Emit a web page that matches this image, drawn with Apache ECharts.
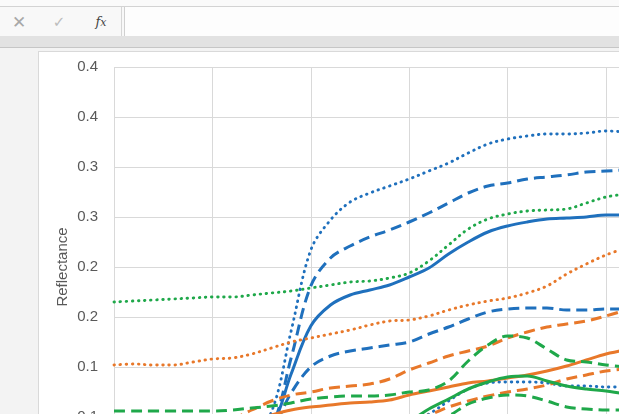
<!DOCTYPE html>
<html>
<head>
<meta charset="utf-8">
<script src="https://cdn.jsdelivr.net/npm/echarts@6/dist/echarts.min.js"></script>
<style>
  html,body{margin:0;padding:0;}
  body{width:619px;height:414px;overflow:hidden;background:#f3f3f3;position:relative;font-family:'Liberation Sans',Arial,sans-serif;}
  #topStrip{position:absolute;left:0;top:0;width:619px;height:36px;background:#fafafa;}
  #fbar{position:absolute;left:0;top:6px;width:619px;height:29px;border-top:1px solid #d3d3d3;border-bottom:1px solid #d3d3d3;background:#f8f8f8;}
  #sep1{position:absolute;left:121px;top:7px;width:1px;height:29px;background:#d6d6d6;}
  #sep2{position:absolute;left:124px;top:7px;width:1px;height:29px;background:#d0d0d0;}
  #fin{position:absolute;left:125px;top:7px;width:494px;height:29px;background:#fdfdfd;}
  #band{position:absolute;left:0;top:36px;width:619px;height:11px;background:#e2e2e2;border-bottom:1px solid #c6c6c6;}
  .ico{position:absolute;top:9px;height:26px;line-height:26px;text-align:center;}
  #icX{left:10px;width:18px;color:#a8a8a8;font-size:17px;font-family:'DejaVu Sans',sans-serif;}
  #icV{left:50px;width:18px;color:#bcbcbc;font-size:15px;font-family:'DejaVu Sans',sans-serif;}
  #icF{left:91px;width:20px;color:#444;font-size:13px;font-style:italic;font-family:'DejaVu Serif','Liberation Serif',serif;}
  #chartArea{position:absolute;left:38px;top:51px;width:800px;height:520px;background:#fff;border:1px solid #d9d9d9;box-sizing:border-box;}
  #chart{position:absolute;left:0;top:0;width:760px;height:560px;}
</style>
</head>
<body>
<div id="topStrip"></div>
<div id="fbar"></div>
<div id="fin"></div>
<div id="sep1"></div>
<div id="sep2"></div>
<div id="band"></div>
<div class="ico" id="icX">✕</div>
<div class="ico" id="icV">✓</div>
<div class="ico" id="icF">f<span style="font-size:11px">x</span></div>
<div id="chartArea"></div>
<div id="chart"></div>
<script>
// x values (wavelength-like, sampled every 20)
var wavelength = [400,420,440,460,480,500,520,540,560,580,600,620,640,660,680,700,720,740,760,780,800,820,840,860,880,900,920];

// y tick labels as displayed (values 0 to 0.40 step 0.05, rounded to 1 decimal)
var yTickLabels = ['0.0','0.1','0.1','0.2','0.2','0.3','0.3','0.4','0.4'];

var blueDotA  = [0.040,0.038,0.036,0.035,0.034,0.033,0.033,0.035,0.055,0.136,0.217,0.247,0.265,0.274,0.281,0.288,0.296,0.304,0.314,0.323,0.328,0.331,0.333,0.333,0.334,0.336,0.335];
var blueDashA = [0.038,0.036,0.034,0.033,0.032,0.031,0.031,0.033,0.040,0.109,0.181,0.209,0.221,0.230,0.237,0.245,0.254,0.264,0.274,0.281,0.284,0.288,0.290,0.292,0.295,0.296,0.297];
var blueSolid = [0.036,0.034,0.032,0.031,0.030,0.030,0.030,0.031,0.040,0.093,0.141,0.162,0.172,0.177,0.182,0.190,0.199,0.213,0.225,0.235,0.241,0.245,0.248,0.249,0.250,0.252,0.252];
var blueDashB = [0.032,0.030,0.029,0.028,0.027,0.027,0.027,0.028,0.038,0.074,0.100,0.111,0.116,0.119,0.122,0.125,0.133,0.140,0.148,0.155,0.158,0.159,0.159,0.157,0.157,0.158,0.158];
var blueDotB  = [0.030,0.028,0.027,0.026,0.025,0.025,0.025,0.026,0.028,0.031,0.033,0.035,0.036,0.037,0.040,0.045,0.053,0.066,0.078,0.084,0.085,0.085,0.084,0.081,0.081,0.080,0.080];

var orangeDot   = [0.102,0.103,0.102,0.102,0.105,0.108,0.109,0.113,0.119,0.125,0.129,0.133,0.137,0.142,0.146,0.147,0.151,0.157,0.162,0.166,0.169,0.174,0.181,0.193,0.203,0.212,0.219];
var orangeDashA = [0.040,0.040,0.041,0.042,0.043,0.044,0.048,0.057,0.066,0.072,0.075,0.079,0.081,0.083,0.088,0.097,0.104,0.111,0.116,0.121,0.129,0.135,0.140,0.143,0.146,0.151,0.157];
var orangeSolid = [0.035,0.036,0.037,0.038,0.039,0.040,0.042,0.046,0.052,0.057,0.060,0.062,0.064,0.065,0.067,0.072,0.076,0.080,0.084,0.086,0.089,0.092,0.096,0.101,0.107,0.113,0.117];
var orangeDashB = [0.030,0.030,0.030,0.031,0.031,0.032,0.032,0.033,0.034,0.035,0.036,0.037,0.038,0.040,0.043,0.047,0.052,0.060,0.066,0.071,0.075,0.078,0.082,0.088,0.092,0.096,0.098];

var greenDot   = [0.165,0.166,0.167,0.168,0.169,0.170,0.170,0.172,0.174,0.176,0.179,0.182,0.185,0.186,0.189,0.194,0.206,0.222,0.238,0.248,0.253,0.256,0.257,0.258,0.264,0.270,0.273];
var greenDashA = [0.056,0.056,0.056,0.056,0.056,0.056,0.057,0.059,0.061,0.064,0.068,0.070,0.071,0.071,0.072,0.075,0.077,0.086,0.106,0.122,0.131,0.129,0.118,0.107,0.105,0.102,0.100];
var greenSolid = [0.030,0.030,0.030,0.030,0.030,0.030,0.031,0.031,0.032,0.033,0.034,0.035,0.036,0.037,0.040,0.046,0.058,0.068,0.078,0.085,0.090,0.091,0.086,0.081,0.078,0.076,0.073];
var greenDashB = [0.028,0.028,0.028,0.028,0.028,0.028,0.029,0.029,0.030,0.031,0.032,0.033,0.034,0.035,0.037,0.040,0.044,0.051,0.063,0.069,0.072,0.071,0.066,0.060,0.058,0.057,0.057];

var BLUE = '#1f70bd', ORANGE = '#e8782a', GREEN = '#1fa84a';
var DOT = [0.5, 5.6], DASH = [11, 6];

function mk(name, vals, color, style) {
  var ls = {color: color, width: 3, cap: 'round', join: 'round'};
  if (style === 'dot') { ls.type = DOT; ls.width = 2.9; }
  else if (style === 'dash') { ls.type = DASH; ls.cap = 'butt'; }
  return {
    name: name, type: 'line', smooth: 0.35, showSymbol: false, symbol: 'none',
    data: wavelength.map(function (w, i) { return [w, vals[i]]; }),
    lineStyle: ls, itemStyle: {color: color}
  };
}

var chart = echarts.init(document.getElementById('chart'), null, {renderer: 'canvas'});
chart.setOption({
  animation: false,
  grid: {left: 114, top: 67, width: 590.4, height: 400},
  xAxis: {
    type: 'value', min: 400, max: 1000, interval: 100,
    axisLine: {show: true, lineStyle: {color: '#d9d9d9'}},
    axisTick: {show: false},
    axisLabel: {color: '#595959', fontSize: 15, fontFamily: 'Liberation Sans'},
    splitLine: {show: true, lineStyle: {color: '#d9d9d9', width: 1}}
  },
  yAxis: {
    type: 'value', min: 0, max: 0.4, interval: 0.05,
    name: 'Reflectance', nameLocation: 'middle', nameGap: 44, nameMoveOverlap: false,
    nameTextStyle: {color: '#595959', fontSize: 15, fontFamily: 'Liberation Sans'},
    axisLine: {show: false}, axisTick: {show: false},
    axisLabel: {
      color: '#595959', fontSize: 15, margin: 16, fontFamily: 'Liberation Sans',
      formatter: function (v) { return yTickLabels[Math.round(v / 0.05)]; }
    },
    splitLine: {show: true, lineStyle: {color: '#d9d9d9', width: 1}}
  },
  series: [
    mk('Blue dotted A', blueDotA, BLUE, 'dot'),
    mk('Blue dashed A', blueDashA, BLUE, 'dash'),
    mk('Blue solid', blueSolid, BLUE, 'solid'),
    mk('Blue dashed B', blueDashB, BLUE, 'dash'),
    mk('Blue dotted B', blueDotB, BLUE, 'dot'),
    mk('Orange dotted', orangeDot, ORANGE, 'dot'),
    mk('Orange dashed A', orangeDashA, ORANGE, 'dash'),
    mk('Orange solid', orangeSolid, ORANGE, 'solid'),
    mk('Orange dashed B', orangeDashB, ORANGE, 'dash'),
    mk('Green dotted', greenDot, GREEN, 'dot'),
    mk('Green dashed A', greenDashA, GREEN, 'dash'),
    mk('Green solid', greenSolid, GREEN, 'solid'),
    mk('Green dashed B', greenDashB, GREEN, 'dash')
  ]
});
</script>
</body>
</html>
